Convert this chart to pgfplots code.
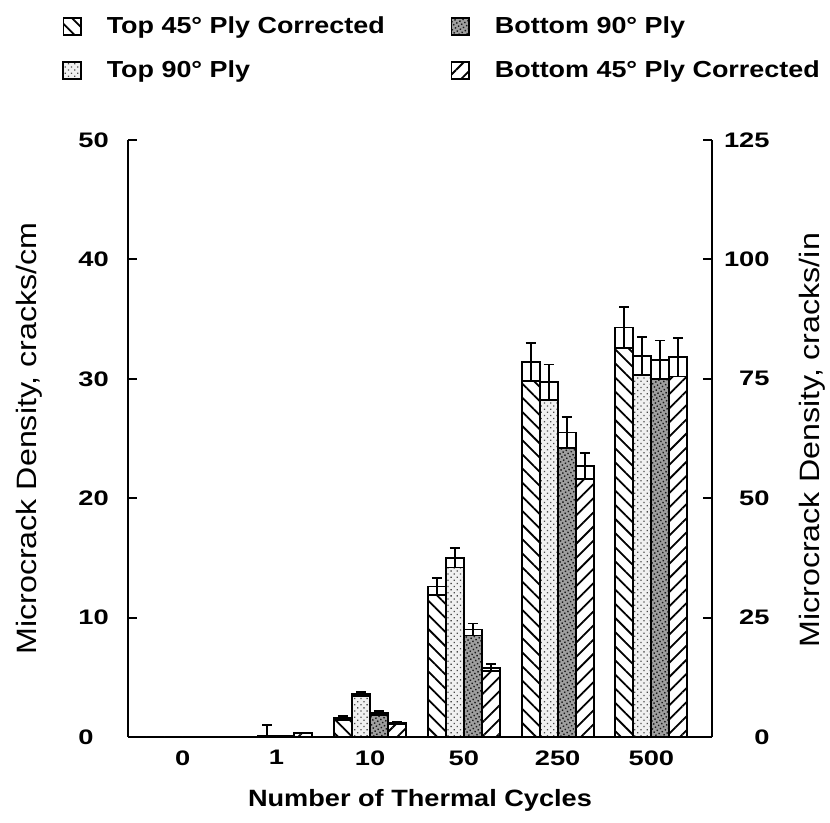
\documentclass[border=0pt]{standalone}
\usepackage{pgfplots}
\pgfplotsset{compat=1.18}
\usepackage{pgfplotstable}
\usepackage{fontspec}
\usetikzlibrary{patterns.meta}
\newfontfamily\tickfont{Liberation Sans}[FakeStretch=1.3]
\newfontfamily\legfont{Liberation Sans}[FakeStretch=1.16]
\newfontfamily\labfont{Liberation Sans}[FakeStretch=1.15]

% microcrack density, cracks/cm: mean m and scatter e per cycle group
% groups 0..5 = 0, 1, 10, 50, 250, 500 thermal cycles
\pgfplotstableread{
x m e
0 0 0
1 0 0
2 1.6 0.15
3 12.6 0.7
4 31.4 1.6
5 34.3 1.7
}\topFortyFive
\pgfplotstableread{
x m e
0 0 0
1 0.1 0.9
2 3.6 0.2
3 15.0 0.8
4 29.7 1.5
5 31.9 1.6
}\topNinety
\pgfplotstableread{
x m e
0 0 0
1 0.1 0
2 2.0 0.15
3 9.0 0.5
4 25.5 1.3
5 31.6 1.6
}\botNinety
\pgfplotstableread{
x m e
0 0 0
1 0.35 0
2 1.2 0.1
3 5.8 0.3
4 22.7 1.1
5 31.8 1.6
}\botFortyFive

\tikzset{
  hatchA/.style={pattern={Lines[angle=-45,distance=5pt,line width=0.9pt]}},
  hatchB/.style={pattern={Lines[angle=45,distance=5pt,line width=0.9pt]}},
  dotsLight/.style={preaction={fill=gray!12},pattern={Dots[angle=45,distance=2.2pt,radius=0.45pt]},pattern color=black!70},
  dotsDark/.style={preaction={fill=gray!75},pattern={Dots[angle=30,distance=1.8pt,radius=0.5pt]},pattern color=black!90},
}

\pgfplotsset{
  barbase/.style={ybar, bar width=0.192, draw=black, line width=0.9pt},
  capbar/.style={barbase, fill=white, forget plot},
  scatterbar/.style={draw=none, mark=none, forget plot,
    error bars/y dir=both, error bars/y explicit,
    error bars/error bar style={line width=0.9pt, black},
    error bars/error mark options={line width=0.9pt, black, mark size=2.5pt, rotate=90}},
  boxleg/.style={legend image code/.code={
    \draw[##1, line width=0.8pt] (0pt,-4.3pt) rectangle (8.8pt,4.3pt);}},
}

\begin{document}
\begin{tikzpicture}
\useasboundingbox (-64pt,-43pt) rectangle (351pt,368.5pt);
\begin{axis}[
  at={(0pt,0pt)}, anchor=south west,
  scale only axis, width=292pt, height=298.5pt,
  xmin=-0.583, xmax=5.647, ymin=0, ymax=50,
  axis y line*=left, axis x line*=bottom,
  axis line style={line width=1pt},
  xtick={0,...,5}, xticklabels={0,1,10,50,250,500},
  xtick style={draw=none},
  ytick={0,10,...,50},
  tick align=inside, major tick length=4.5pt,
  ytick style={line width=1pt, black},
  tick label style={font=\tickfont\bfseries\fontsize{10.5}{12}\selectfont,
    /pgf/number format/assume math mode=true},
  yticklabel style={anchor=west, inner sep=0pt, xshift=-25pt},
  xticklabel style={anchor=north, inner sep=0pt, yshift=-6.5pt},
  ylabel={Microcrack Density, cracks/cm},
  ylabel style={at={(rel axis cs:-0.1695,0.5)}, anchor=center,
    font=\labfont\fontsize{14}{16}\selectfont},
  xlabel={Number of Thermal Cycles},
  xlabel style={at={(rel axis cs:0.5,-0.107)}, anchor=center,
    font=\labfont\bfseries\fontsize{11.8}{14}\selectfont},
  legend columns=2,
  legend style={at={(rel axis cs:-0.123,1.214)}, anchor=north west,
    draw=none, fill=none, row sep=12pt,
    font=\legfont\bfseries\fontsize{11.6}{13}\selectfont,
    nodes={inner sep=0pt},
    /tikz/every odd column/.append style={column sep=12.5pt},
    /tikz/every even column/.append style={column sep=33pt}},
  legend cell align=left,
]
% white full-height bars
\addplot[bar shift=-0.288, capbar] table[x=x, y=m] {\topFortyFive};
\addplot[bar shift=-0.096, capbar] table[x=x, y=m] {\topNinety};
\addplot[bar shift=0.096, capbar] table[x=x, y=m] {\botNinety};
\addplot[bar shift=0.288, capbar] table[x=x, y=m] {\botFortyFive};
% patterned part of each bar up to the lower scatter limit
\addplot[barbase, boxleg, hatchA, bar shift=-0.288]
  table[x=x, y expr={max(0,\thisrow{m}-\thisrow{e})}] {\topFortyFive};
\addlegendentry{Top 45° Ply Corrected}
\addplot[barbase, boxleg, dotsDark, bar shift=0.096]
  table[x=x, y expr={max(0,\thisrow{m}-\thisrow{e})}] {\botNinety};
\addlegendentry{Bottom 90° Ply}
\addplot[barbase, boxleg, dotsLight, bar shift=-0.096]
  table[x=x, y expr={max(0,\thisrow{m}-\thisrow{e})}] {\topNinety};
\addlegendentry{Top 90° Ply}
\addplot[barbase, boxleg, hatchB, bar shift=0.288]
  table[x=x, y expr={max(0,\thisrow{m}-\thisrow{e})}] {\botFortyFive};
\addlegendentry{Bottom 45° Ply Corrected}
% scatter bars centred on each bar
\addplot[scatterbar] table[x expr=\thisrow{x}-0.288, y=m, y error=e] {\topFortyFive};
\addplot[scatterbar] table[x expr=\thisrow{x}-0.096, y=m, y error=e] {\topNinety};
\addplot[scatterbar] table[x expr=\thisrow{x}+0.096, y=m, y error=e] {\botNinety};
\addplot[scatterbar] table[x expr=\thisrow{x}+0.288, y=m, y error=e] {\botFortyFive};
\end{axis}
% cracks/in scale on the right (2.5 times cracks/cm)
\begin{axis}[
  at={(0pt,0pt)}, anchor=south west,
  scale only axis, width=292pt, height=298.5pt,
  xmin=-0.583, xmax=5.647, ymin=0, ymax=125,
  axis y line*=right, axis x line=none,
  axis line style={line width=1pt},
  ytick={0,25,...,125},
  tick align=inside, major tick length=4.5pt,
  ytick style={line width=1pt, black},
  tick label style={font=\tickfont\bfseries\fontsize{10.5}{12}\selectfont,
    /pgf/number format/assume math mode=true},
  yticklabel style={anchor=east, inner sep=0pt, xshift=29pt},
  ylabel={Microcrack Density, cracks/in},
  ylabel style={at={(rel axis cs:1.171,0.497)}, anchor=center,
    font=\labfont\fontsize{14}{16}\selectfont},
]
\addplot[draw=none] coordinates {(0,0)};
\end{axis}
\end{tikzpicture}
\end{document}
